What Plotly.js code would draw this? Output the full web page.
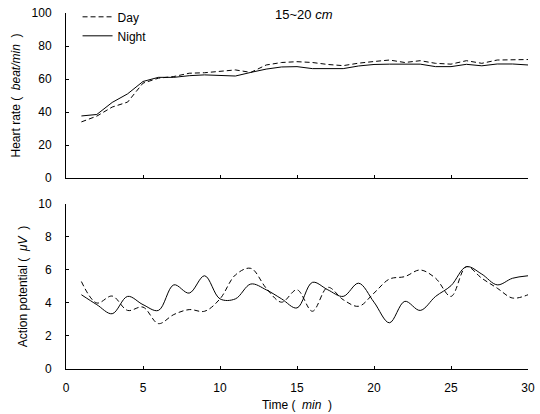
<!DOCTYPE html>
<html>
<head>
<meta charset="utf-8">
<script src="https://cdn.plot.ly/plotly-3.0.1.min.js"></script>
<style>html,body{margin:0;padding:0;background:#fff;}#chart{width:540px;height:414px;}</style>
</head>
<body>
<div id="chart"></div>
<script>
// Time (min)
const time = [1,2,3,4,5,6,7,8,9,10,11,12,13,14,15,16,17,18,19,20,21,22,23,24,25,26,27,28,29,30];
// Heart rate (beat/min)
const hrDay   = [34,37.5,43,46,57.5,60.5,61.5,63.5,63.8,64.5,65.5,64,68.5,70,70.5,70,68.8,68.1,69.6,70.6,71.5,70,71.1,69.5,69,71.1,69.5,71.5,71.8,71.8];
const hrNight = [37.6,38.5,45.8,51,58.5,61,61,62,62.5,62,61.8,64,66,67.3,67.5,66.3,66.3,66.3,67.9,68.8,69,69,69,67.5,67.5,68.9,68,69.1,69.1,68.5];
// Action potential (uV)
const apDay   = [5.3,4.0,4.42,3.55,3.75,2.75,3.3,3.6,3.5,4.25,5.7,6.1,4.9,4.05,4.8,3.5,4.95,4.2,3.8,4.6,5.45,5.6,6.0,5.5,4.4,6.2,5.5,4.9,4.3,4.5];
const apNight = [4.5,3.9,3.35,4.4,3.9,3.55,5.1,4.6,5.65,4.25,4.25,5.15,4.8,4.25,3.7,5.25,4.8,4.4,5.2,4.05,2.8,4.1,3.55,4.4,5.05,6.2,5.75,5.1,5.5,5.65];
const xTicks = [0,5,10,15,20,25,30];
const hrTicks = [0,20,40,60,80,100];
const apTicks = [0,2,4,6,8,10];

const dashStyle = '5px,3px';
const traces = [
  {x: time, y: hrDay, name: 'Day', mode: 'lines', line: {color: '#000', width: 1, dash: dashStyle}, xaxis: 'x', yaxis: 'y'},
  {x: time, y: hrNight, name: 'Night', mode: 'lines', line: {color: '#000', width: 1}, xaxis: 'x', yaxis: 'y'},
  {x: time, y: apDay, name: 'Day', mode: 'lines', showlegend: false, line: {color: '#000', width: 1, dash: dashStyle, shape: 'spline', smoothing: 1}, xaxis: 'x2', yaxis: 'y2'},
  {x: time, y: apNight, name: 'Night', mode: 'lines', showlegend: false, line: {color: '#000', width: 1, shape: 'spline', smoothing: 1}, xaxis: 'x2', yaxis: 'y2'}
];

const font = {family: 'Arial, "Liberation Sans", sans-serif', size: 12, color: '#000'};
const axBase = {showgrid: false, zeroline: false, showline: true, linecolor: '#000', linewidth: 1,
  ticks: 'inside', ticklen: 3, tickcolor: '#000', tickfont: font, automargin: false};

const layout = {
  width: 540, height: 414,
  margin: {l: 66, r: 12, t: 13, b: 45, autoexpand: false},
  paper_bgcolor: '#fff', plot_bgcolor: '#fff',
  font: font,
  showlegend: true,
  legend: {x: 0.025, y: 1.03, xanchor: 'left', yanchor: 'top', bgcolor: 'rgba(0,0,0,0)', font: font, tracegroupgap: 0, itemwidth: 30},
  xaxis: Object.assign({}, axBase, {range: [0, 30], tickvals: xTicks, showticklabels: false, anchor: 'y'}),
  yaxis: Object.assign({}, axBase, {range: [0, 100], tickvals: hrTicks, domain: [0.5365, 1], anchor: 'x', ticklabelstandoff: 11,
    title: {text: 'Heart rate (  <i>beat/min</i>  )', font: font, standoff: 8}}),
  xaxis2: Object.assign({}, axBase, {range: [0, 30], tickvals: xTicks, anchor: 'y2', ticklabelstandoff: 8,
    title: {text: 'Time (  <i>min</i>  )', font: font, standoff: 6}}),
  yaxis2: Object.assign({}, axBase, {range: [0, 10], tickvals: apTicks, domain: [0, 0.4635], anchor: 'x2', ticklabelstandoff: 11,
    title: {text: 'Action potential (  <i>μV</i>  )', font: font, standoff: 8}}),
  annotations: [
    {text: '15~20 <i>cm</i>', xref: 'paper', yref: 'paper', x: 0.515, y: 0.995, xanchor: 'center', yanchor: 'middle', showarrow: false, font: {family: font.family, size: 13, color: '#000'}}
  ]
};

Plotly.newPlot('chart', traces, layout, {staticPlot: true, displayModeBar: false});
</script>
</body>
</html>
